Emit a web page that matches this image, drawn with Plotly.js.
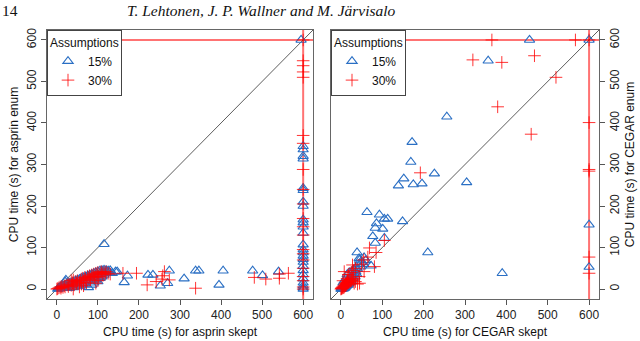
<!DOCTYPE html>
<html>
<head>
<meta charset="utf-8">
<script src="https://cdn.plot.ly/plotly-3.0.1.min.js"></script>
<style>
  html, body { margin: 0; padding: 0; background: #fff; }
  #chart { width: 640px; height: 341px; }
</style>
</head>
<body>
<div id="chart"></div>
<script>
// Timeout used by both solvers (s)
const TIMEOUT = 600;
const AXIS_RANGE = [-24, 624];
const TICKS = [0, 100, 200, 300, 400, 500, 600];

// asprin skept (x) vs asprin enum (y), 15% assumptions
const asp15X = [2, 4, 5, 6, 8, 10, 12, 14, 15, 18, 20, 22, 25, 22, 28, 30, 32, 35, 38, 40, 42, 45, 48, 50, 52, 55, 58, 60, 62, 65,
  68, 70, 72, 75, 77, 78, 80, 82, 85, 88, 90, 92, 95, 98, 100, 102, 105, 108, 110, 112, 115, 118, 120, 122, 125, 128, 130, 135,
  60, 70, 90, 100, 110, 40, 30, 50, 20, 85, 95, 105, 115,
  115, 143, 147, 172, 164, 222, 234, 252, 270, 274, 310, 338, 346, 395, 405, 477, 501, 540,
  595, 600, 600, 600, 600, 600, 600, 600, 600, 600, 600, 600, 600, 600, 600, 600, 600, 600, 600, 600, 600, 600, 600, 600, 600, 600, 600];
const asp15Y = [0, 2, 1, 4, 2, 5, 3, 6, 8, 4, 10, 7, 12, 22, 5, 14, 10, 16, 8, 18, 12, 20, 15, 22, 10, 24, 18, 26, 14, 28,
  22, 30, 18, 32, 4, 26, 34, 20, 36, 28, 38, 24, 40, 32, 42, 28, 44, 36, 45, 40, 46, 38, 45, 42, 44, 40, 45, 38,
  8, 12, 15, 18, 30, 4, 2, 6, 18, 10, 22, 26, 34,
  108, 42, 42, 32, 16, 34, 34, 8, 14, 44, 25, 44, 44, 10, 44, 44, 33, 42,
  600, 344, 336, 320, 314, 243, 238, 210, 200, 167, 160, 150, 135, 107, 95, 88, 80, 72, 65, 55, 45, 35, 25, 15, 8, 3, 0];

// asprin skept (x) vs asprin enum (y), 30% assumptions
const asp30X = [0, 2, 5, 8, 10, 12, 15, 18, 20, 25, 28, 30, 35, 38, 40, 42, 45, 48, 50, 55, 58, 60, 62, 65, 68, 70, 72, 75, 78, 80,
  82, 85, 88, 90, 92, 95, 98, 100, 102, 105, 108, 110, 112, 115, 118, 120, 125, 130, 40, 35, 55, 65, 100, 95,
  161, 194, 220, 242, 256, 262, 258, 274, 338, 481, 509, 542, 542, 564,
  600, 600, 600, 600, 600, 600, 600, 600, 600, 600, 600, 600, 600, 600, 600, 600, 600, 600, 600, 600, 600];
const asp30Y = [0, 1, 3, 5, 2, 6, 4, 8, 5, 10, 6, 12, 9, 15, 0, 10, 18, 14, 20, 16, 22, 12, 26, 20, 28, 24, 15, 30, 26, 32,
  22, 34, 30, 36, 28, 38, 34, 40, 30, 36, 42, 38, 34, 40, 36, 42, 38, 36, 22, 20, 5, 8, 20, 14,
  38, 38, 10, 18, 24, 42, 32, 22, 2, 28, 24, 26, 36, 38,
  600, 550, 538, 523, 510, 370, 351, 288, 240, 205, 170, 150, 130, 95, 85, 70, 50, 30, 20, 5, 0];

// CEGAR skept (x) vs CEGAR enum (y), 15% assumptions
const ceg15X = [0, 1, 2, 3, 4, 5, 6, 7, 8, 9, 10, 11, 12, 13, 14, 15, 16, 18, 19, 20, 22, 24, 25, 26, 28, 30, 32, 34, 36, 38,
  40, 3, 6, 10, 14, 18, 22, 5, 8, 12, 15, 20, 28, 35, 42, 45, 50, 55,
  39, 44, 56, 73, 60, 48, 32, 77, 83, 105, 83, 101, 86, 149, 105, 113, 93, 63, 139, 175, 196, 152, 226, 304, 169, 172, 256,
  356, 456, 210, 390, 600, 600, 600];
const ceg15Y = [0, 2, 1, 4, 3, 6, 5, 8, 2, 10, 12, 6, 14, 9, 16, 11, 18, 20, 14, 24, 28, 22, 30, 18, 34, 26, 38, 30, 42, 36,
  48, 0, 1, 4, 8, 10, 16, 15, 20, 25, 35, 40, 45, 50, 60, 70, 65, 60,
  88, 74, 76, 56, 69, 54, 46, 127, 111, 123, 147, 145, 158, 163, 169, 169, 179, 185, 249, 252, 254, 266, 278, 257, 306, 354, 415,
  550, 600, 88, 38, 600, 155, 53];

// CEGAR skept (x) vs CEGAR enum (y), 30% assumptions
const ceg30X = [0, 1, 2, 3, 4, 5, 6, 7, 8, 9, 10, 11, 12, 13, 14, 15, 16, 18, 20, 22, 24, 26, 28, 30, 32, 35, 40, 45,
  5, 8, 12, 28, 44, 56, 65, 81, 85, 69, 105, 192, 15, 18, 25, 30, 35, 50, 55,
  319, 365, 379, 389, 460, 468, 520, 567, 600, 600, 600, 600, 600, 600];
const ceg30Y = [0, 1, 3, 2, 5, 4, 7, 3, 9, 6, 12, 8, 14, 10, 16, 12, 20, 15, 22, 18, 24, 20, 26, 22, 14, 18, 12, 14,
  20, 42, 10, 58, 30, 42, 77, 54, 88, 99, 117, 280, 25, 35, 40, 45, 50, 60, 70,
  552, 600, 439, 546, 373, 562, 510, 600, 600, 401, 284, 77, 38, 288];

const BLUE = '#2a6fc4';
const RED = 'rgba(255,0,0,0.8)';
const FONT = 'Liberation Sans, Arial, sans-serif';

function triTrace(x, y, xa, ya, lg, show) {
  return {
    x: x, y: y, xaxis: xa, yaxis: ya, type: 'scatter', mode: 'markers', name: '15%',
    legend: lg, showlegend: show,
    marker: { symbol: 'triangle-up-open', size: 9, color: BLUE, line: { width: 1.1, color: BLUE } }
  };
}
function plusTrace(x, y, xa, ya, lg, show) {
  return {
    x: x, y: y, xaxis: xa, yaxis: ya, type: 'scatter', mode: 'markers', name: '30%',
    legend: lg, showlegend: show,
    marker: { symbol: 'cross-thin-open', size: 9, color: RED, line: { width: 1, color: RED } }
  };
}

const data = [
  triTrace(asp15X, asp15Y, 'x', 'y', 'legend', true),
  plusTrace(asp30X, asp30Y, 'x', 'y', 'legend', true),
  triTrace(ceg15X, ceg15Y, 'x2', 'y2', 'legend2', true),
  plusTrace(ceg30X, ceg30Y, 'x2', 'y2', 'legend2', true)
];

function axis(extra) {
  return Object.assign({
    range: AXIS_RANGE, tickvals: TICKS, ticks: 'outside', ticklen: 5, tickcolor: '#555',
    showline: true, linecolor: '#666', linewidth: 1, mirror: true,
    showgrid: false, zeroline: false, tickfont: { family: FONT, size: 12, color: '#222' }
  }, extra);
}

const shapes = [];
[['x', 'y'], ['x2', 'y2']].forEach(function (p) {
  shapes.push({ type: 'line', xref: p[0], yref: p[1], x0: AXIS_RANGE[0], y0: AXIS_RANGE[0], x1: AXIS_RANGE[1], y1: AXIS_RANGE[1],
    line: { color: '#333', width: 0.8 }, layer: 'below' });
  shapes.push({ type: 'line', xref: p[0] + ' domain', yref: p[1], x0: 0, x1: 1, y0: TIMEOUT, y1: TIMEOUT,
    line: { color: 'rgba(255,0,0,0.55)', width: 2 }, layer: 'below' });
  shapes.push({ type: 'line', xref: p[0], yref: p[1] + ' domain', x0: TIMEOUT, x1: TIMEOUT, y0: 0, y1: 1,
    line: { color: 'rgba(255,0,0,0.55)', width: 2 }, layer: 'below' });
});

const legendStyle = {
  y: 1, yanchor: 'top', xanchor: 'left', bgcolor: '#fff', bordercolor: '#444', borderwidth: 1,
  font: { family: FONT, size: 12, color: '#111' }, title: { text: 'Assumptions', font: { family: FONT, size: 12 } },
  tracegroupgap: 0, itemwidth: 30
};

const HEADER_FONT = { family: 'Liberation Serif, Times New Roman, serif', size: 15.5, color: '#111' };

const layout = {
  width: 640, height: 341,
  margin: { l: 47, r: 41, t: 30, b: 42 },
  paper_bgcolor: '#fff', plot_bgcolor: '#fff',
  showlegend: true,
  xaxis: axis({ domain: [0, 0.4819], anchor: 'y',
    title: { text: 'CPU time (s) for asprin skept', font: { family: FONT, size: 12, color: '#111' }, standoff: 6 } }),
  yaxis: axis({ domain: [0, 1], anchor: 'x', tickangle: -90,
    title: { text: 'CPU time (s) for asprin enum', font: { family: FONT, size: 12, color: '#111' }, standoff: 4 } }),
  xaxis2: axis({ domain: [0.5145, 1], anchor: 'y2',
    title: { text: 'CPU time (s) for CEGAR skept', font: { family: FONT, size: 12, color: '#111' }, standoff: 6 } }),
  yaxis2: axis({ domain: [0, 1], anchor: 'x2', side: 'right', tickangle: -90,
    title: { text: 'CPU time (s) for CEGAR enum', font: { family: FONT, size: 12, color: '#111' }, standoff: 4 } }),
  legend: Object.assign({ x: 0 }, legendStyle),
  legend2: Object.assign({ x: 0.5145 }, legendStyle),
  shapes: shapes,
  annotations: [
    { text: '14', xref: 'paper', yref: 'paper', x: -0.085, y: 1.11, xanchor: 'left', yanchor: 'top', showarrow: false,
      font: HEADER_FONT },
    { text: '<i>T. Lehtonen, J. P. Wallner and M. Järvisalo</i>', xref: 'paper', yref: 'paper', x: 0.389, y: 1.11,
      xanchor: 'center', yanchor: 'top', showarrow: false, font: HEADER_FONT }
  ]
};

Plotly.newPlot('chart', data, layout, { displayModeBar: false, staticPlot: true });
</script>
</body>
</html>
